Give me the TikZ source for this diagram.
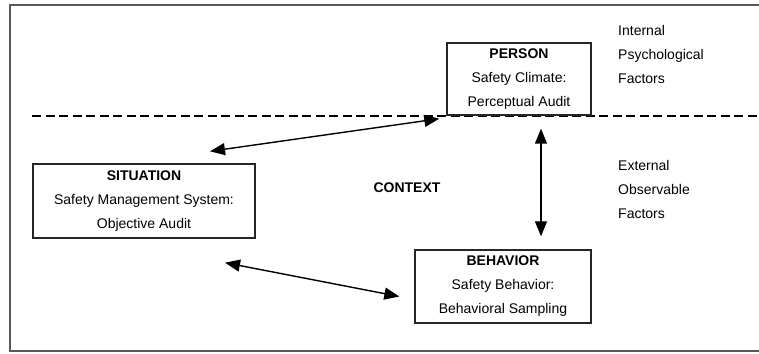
\documentclass[tikz,border=0pt]{standalone}
\usepackage{fontspec}
\setmainfont{Liberation Sans}
\usetikzlibrary{arrows.meta,calc}
\begin{document}
\begin{tikzpicture}[x=1pt,y=1pt,
  box/.style={draw=black!85,line width=1.4pt,align=center,inner sep=0pt,
    font=\fontsize{14}{24}\selectfont},
  lbl/.style={align=left,anchor=west,inner sep=0pt,font=\fontsize{14}{24}\selectfont},
  dbl/.style={line width=1.4pt,{Triangle[length=15pt,width=12pt]}-{Triangle[length=15pt,width=12pt]}},
  frame/.style={draw=black!65,line width=2pt}]
\useasboundingbox (0,0) rectangle (759,353);
\begin{scope}
\clip (0,0) rectangle (759,353);
\draw[frame] (780,348) -- (10,348) -- (10,2) -- (780,2);
\end{scope}
\draw[line width=1.1pt,dash pattern=on 9pt off 4.5pt] (32,237) -- (759,237);
\node[box,minimum width=144,minimum height=72] (person) at (519,274)
  {\textbf{PERSON}\\Safety Climate:\\Perceptual Audit};
\node[box,minimum width=222,minimum height=74] (situation) at (144,152)
  {\textbf{SITUATION}\\Safety Management System:\\Objective Audit};
\node[box,minimum width=176,minimum height=73] (behavior) at (503,66.5)
  {\textbf{BEHAVIOR}\\Safety Behavior:\\Behavioral Sampling};
\node[font=\fontsize{14}{24}\selectfont\bfseries] (context) at (407,165) {CONTEXT};
\node[lbl] (internal) at (618,298) {Internal\\Psychological\\Factors};
\node[lbl] (external) at (618,164) {External\\Observable\\Factors};
\draw[dbl] ($(situation.north)+(66,12)$) -- ($(person.south west)+(-7,-3)$);
\draw[dbl] ($(person.south)+(22,-13)$) -- ($(behavior.north)+(38,13)$);
\draw[dbl] ($(situation.south)+(81,-24)$) -- ($(behavior.west)+(-15,-10)$);
\end{tikzpicture}
\end{document}
